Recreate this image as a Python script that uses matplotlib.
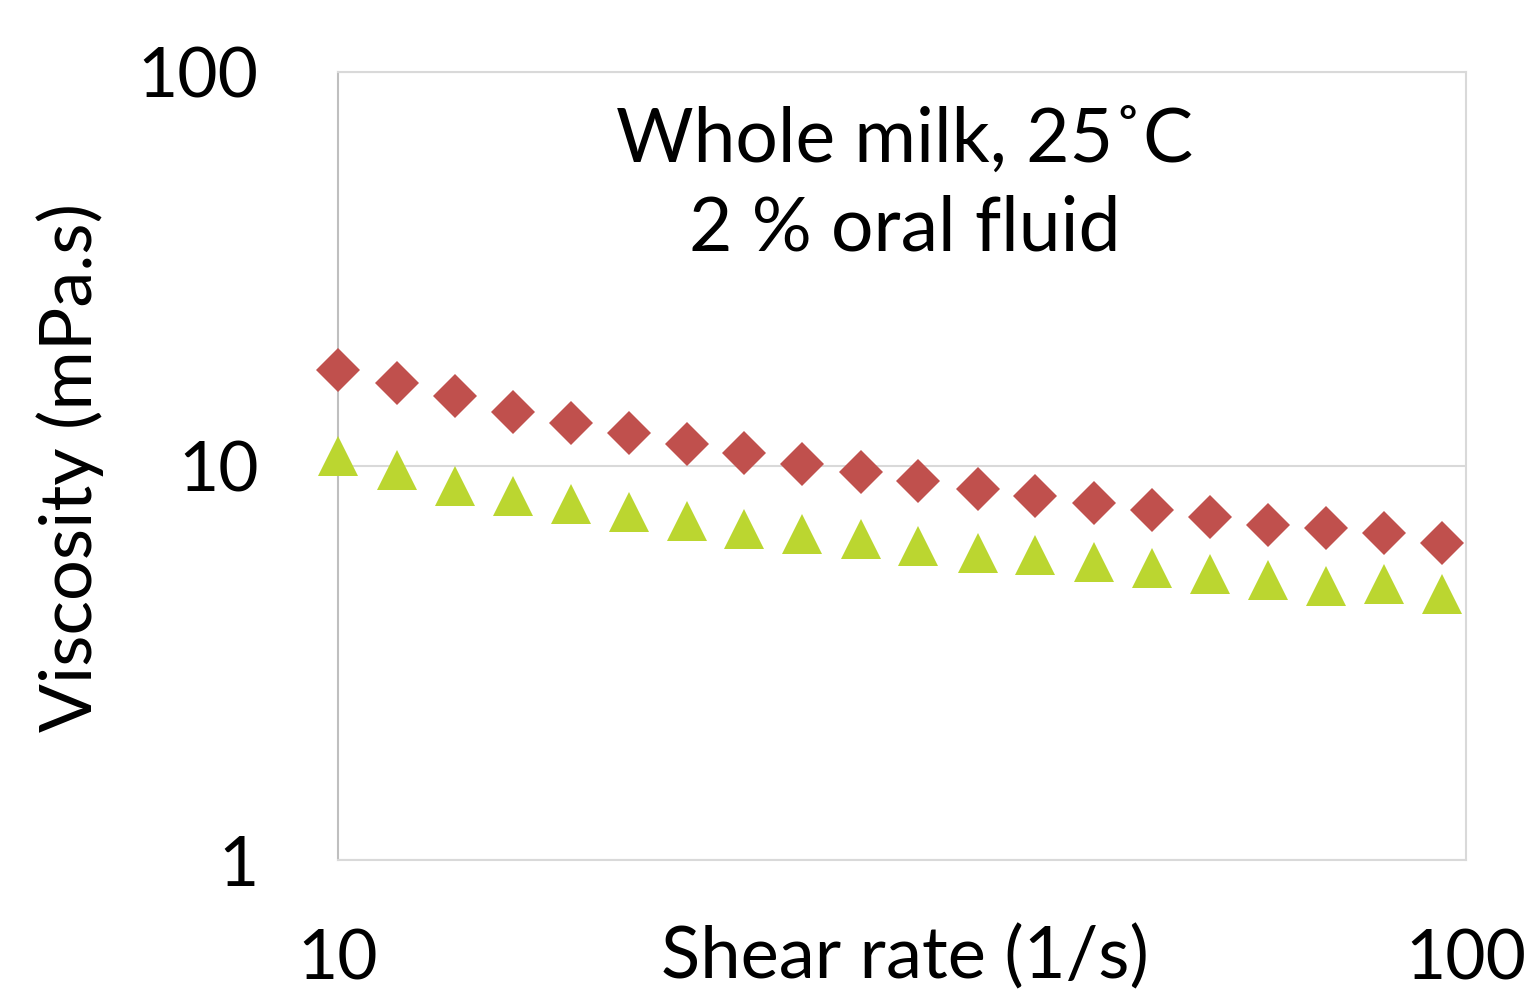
import matplotlib
matplotlib.use("Agg")
import matplotlib.pyplot as plt
from matplotlib.ticker import FixedLocator, FixedFormatter, NullLocator

plt.rcParams['font.family'] = ['Lato', 'DejaVu Sans']

# shear rate (1/s)
shear_rate = [10.0, 11.28, 12.70, 14.30, 16.09, 18.11, 20.39, 22.9, 25.8, 29.1,
              32.7, 36.9, 41.5, 46.8, 52.7, 59.3, 66.8, 75.1, 84.6, 95.2]
# viscosity (mPa.s), whole milk
visc_milk = [17.52, 16.22, 15.03, 13.69, 12.86, 12.13, 11.39, 10.81, 10.10, 9.64,
             9.18, 8.74, 8.38, 8.04, 7.72, 7.44, 7.10, 6.95, 6.75, 6.38]
# viscosity (mPa.s), with 2 % oral fluid
visc_oral = [10.60, 9.77, 8.90, 8.37, 8.01, 7.66, 7.24, 6.93, 6.71, 6.53,
             6.26, 6.00, 5.94, 5.71, 5.50, 5.33, 5.14, 4.97, 5.02, 4.73]

y_ticks = [1, 10, 100]
x_ticks = [10, 100]

fig = plt.figure(figsize=(15.39, 9.96), dpi=100)
ax = fig.add_axes([0.2196, 0.1365, 0.9526 - 0.2196, 0.9277 - 0.1365])

ax.plot(shear_rate, visc_milk, linestyle="none", marker="D", markersize=22,
        color="#C0504D", markeredgewidth=0, clip_on=False, zorder=3)
ax.plot(shear_rate, visc_oral, linestyle="none", marker="^", markersize=29.5,
        color="#BBD630", markeredgewidth=0, clip_on=False, zorder=3)

ax.set_xscale("log")
ax.set_yscale("log")
ax.set_xlim(10, 100)
ax.set_ylim(1, 100)

ax.yaxis.set_major_locator(FixedLocator(y_ticks))
ax.yaxis.set_major_formatter(FixedFormatter([str(t) for t in y_ticks]))
ax.yaxis.set_minor_locator(NullLocator())
ax.xaxis.set_major_locator(FixedLocator(x_ticks))
ax.xaxis.set_major_formatter(FixedFormatter([str(t) for t in x_ticks]))
ax.xaxis.set_minor_locator(NullLocator())

ax.tick_params(axis="both", length=0, labelsize=50, colors="black")
ax.tick_params(axis="y", pad=57)
ax.tick_params(axis="x", pad=49)

ax.grid(True, axis="y", color="#D9D9D9", linewidth=1.5)
ax.set_axisbelow(True)
for side in ["top", "right", "bottom"]:
    ax.spines[side].set_color("#D9D9D9")
    ax.spines[side].set_linewidth(1.5)
ax.spines["left"].set_color("#BFBFBF")
ax.spines["left"].set_linewidth(1.5)

ax.set_xlabel("Shear rate (1/s)", fontsize=52, va="center")
ax.xaxis.set_label_coords(0.5027, -0.124)
ax.set_ylabel("Viscosity (mPa.s)", fontsize=52, va="center")
ax.yaxis.set_label_coords(-0.2376, 0.4987)

ax.text(0.5027, 0.8858, "Whole milk, 25˚C", transform=ax.transAxes,
        ha="center", va="baseline", fontsize=54)
ax.text(0.5027, 0.774, "2 % oral fluid", transform=ax.transAxes,
        ha="center", va="baseline", fontsize=54)

fig.savefig("out.png", dpi=100)
